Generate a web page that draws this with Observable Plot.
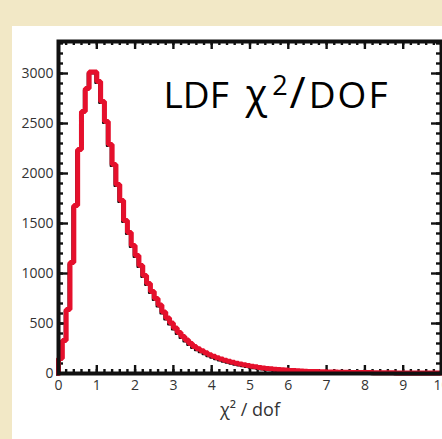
<!DOCTYPE html>
<html>
<head>
<meta charset="utf-8">
<script src="https://cdn.jsdelivr.net/npm/d3@7"></script>
<script src="https://cdn.jsdelivr.net/npm/@observablehq/plot@0.6"></script>
<style>
  html, body { margin: 0; padding: 0; background: #f2e8c6; }
  #wrap { position: relative; width: 442px; height: 439px; overflow: hidden; background: #f2e8c6; }
  #panel { position: absolute; left: 12px; top: 26px; width: 430px; height: 413px; background: #ffffff; }
  #chart { position: absolute; left: 0; top: 0; }
</style>
</head>
<body>
<div id="wrap"><div id="panel"></div><div id="chart"></div></div>
<script>
// Histogram of LDF chi2/dof, bins of width 0.1 from 0 to 10
const binWidth = 0.1;
const counts = [
  150, 330, 640, 1110, 1680, 2240, 2620, 2850, 3015, 3015,
  2920, 2720, 2520, 2290, 2090, 1890, 1730, 1530, 1410, 1280,
  1180, 1080, 980, 900, 820, 750, 685, 615, 555, 505,
  455, 410, 370, 335, 300, 270, 248, 228, 208, 188,
  172, 158, 145, 133, 122, 112, 103, 95, 87, 80,
  73, 67, 61, 56, 51, 47, 43, 40, 37, 34,
  31, 29, 27, 25, 23, 21, 20, 19, 18, 17,
  16, 15, 14, 13, 13, 12, 11, 11, 10, 10,
  9, 9, 8, 8, 8, 7, 7, 7, 6, 6,
  6, 6, 5, 5, 5, 5, 4, 4, 4, 4
];
const xTicks = [0,1,2,3,4,5,6,7,8,9,10];
const xMinor = d3.range(0, 10.001, 0.2);
const yTicks = [0,500,1000,1500,2000,2500,3000];
const yMinor = d3.range(0, 3301, 100);
const titleText = "LDF χ2/DOF";
const xLabel = "χ² / dof";

const xMax = 10, yMax = 3320;

const steps = [{x: 0, y: 0}]
  .concat(counts.map((c, i) => ({x: i * binWidth, y: c})))
  .concat([{x: counts.length * binWidth, y: counts[counts.length - 1]}]);

const majX = 10 / 38.3;   // inward tick length (x data units) ~10px
const minX = 5 / 38.3;
const majY = 8 / 0.1;     // ~8px in y data units
const minY = 4 / 0.1;

const chart = Plot.plot({
  width: 442,
  height: 439,
  marginLeft: 58,
  marginRight: 1,
  marginTop: 41,
  marginBottom: 66,
  style: {background: "transparent", fontFamily: "'Open Sans', sans-serif", fontSize: "14px", color: "#333", overflow: "hidden"},
  x: {domain: [0, xMax]},
  y: {domain: [0, yMax]},
  marks: [
    // y ticks (left and right, inward)
    Plot.ruleY(yMinor, {x1: 0, x2: minX, stroke: "#111", strokeWidth: 2.4}),
    Plot.ruleY(yTicks, {x1: 0, x2: majX, stroke: "#111", strokeWidth: 2.4}),
    Plot.ruleY(yMinor, {x1: xMax, x2: xMax - minX, stroke: "#111", strokeWidth: 2.4}),
    Plot.ruleY(yTicks, {x1: xMax, x2: xMax - majX, stroke: "#111", strokeWidth: 2.4}),
    // x ticks (bottom and top, inward)
    Plot.ruleX(xMinor, {y1: 0, y2: minY, stroke: "#111", strokeWidth: 2.4}),
    Plot.ruleX(xTicks, {y1: 0, y2: majY, stroke: "#111", strokeWidth: 2.4}),
    Plot.ruleX(xMinor, {y1: yMax, y2: yMax - minY, stroke: "#111", strokeWidth: 2.4}),
    Plot.ruleX(xTicks, {y1: yMax, y2: yMax - majY, stroke: "#111", strokeWidth: 2.4}),
    // black histogram underneath
    Plot.line(steps, {x: "x", y: "y", curve: "step-after", stroke: "#111", strokeWidth: 2, dx: -1.5, dy: 1.5}),
    // red histogram
    Plot.line(steps, {x: "x", y: "y", curve: "step-after", stroke: "#e5102c", strokeWidth: 5, strokeLinejoin: "miter"}),
    Plot.frame({stroke: "#111", strokeWidth: 4}),
    Plot.axisX({ticks: xTicks, tickSize: 0, tickPadding: 7, tickFormat: d => String(d), label: null, fontSize: 14, fill: "#333"}),
    Plot.axisY({ticks: yTicks, tickSize: 0, tickPadding: 5, tickFormat: d => String(d), label: null, fontSize: 14, fill: "#333"}),
    Plot.text([xLabel], {frameAnchor: "bottom", dy: 37, text: d => d, fontSize: 18, fill: "#333", lineAnchor: "middle"}),
    Plot.text([titleText], {frameAnchor: "top-left", dx: 105, dy: 55, text: d => d, textAnchor: "start", lineAnchor: "middle", fontSize: 37, fill: "#000"})
  ]
});
document.getElementById("chart").appendChild(chart);

// Render the superscript of the title as a real tspan
const ns = "http://www.w3.org/2000/svg";
for (const t of chart.querySelectorAll("text")) {
  if (t.textContent !== titleText) continue;
  t.textContent = "";
  const parts = [
    {s: "LDF "},
    {s: "χ", attrs: {dx: 7, "font-size": "40"}},
    {s: "2", attrs: {dx: 5, dy: -13, "font-size": "27"}},
    {s: "/", attrs: {dx: 2, dy: 13, "font-size": "44"}},
    {s: "DOF", attrs: {dx: 3, "letter-spacing": "2"}}
  ];
  for (const p of parts) {
    const ts = document.createElementNS(ns, "tspan");
    ts.textContent = p.s;
    if (p.attrs) for (const k in p.attrs) ts.setAttribute(k, p.attrs[k]);
    t.appendChild(ts);
  }
}
</script>
</body>
</html>
